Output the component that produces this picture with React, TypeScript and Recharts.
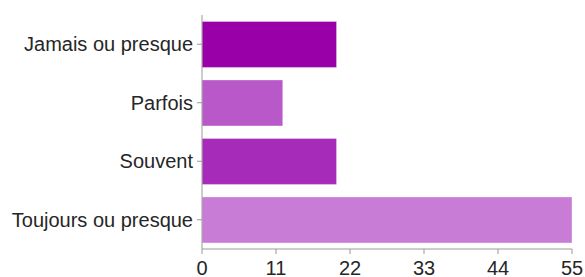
import React from "react";
import { Bar, BarChart, Cell, XAxis, YAxis } from "recharts";

const categories = ["Jamais ou presque", "Parfois", "Souvent", "Toujours ou presque"];
const counts = [20, 12, 20, 55];
const xTicks = [0, 11, 22, 33, 44, 55];

const colors = ["#9900a8", "#b958c8", "#a72bb9", "#c87cd6"];

const data = categories.map((name, i) => ({ name, value: counts[i] }));

const tickStyle = { fontSize: 20, fill: "#262626", fontFamily: "'Liberation Sans', Arial, sans-serif" };

export default function App() {
  return (
    <div style={{ position: "absolute", left: 0, top: 0, background: "#fff" }}>
      <BarChart
        width={585}
        height={277}
        data={data}
        layout="vertical"
        margin={{ top: 15, right: 13, bottom: 0, left: 0 }}
        barCategoryGap="11%"
      >
        <XAxis
          type="number"
          domain={[0, 55]}
          ticks={xTicks}
          height={28}
          tickSize={5}
          tickMargin={7}
          stroke="#9a9a9a"
          tick={tickStyle}
          interval={0}
        />
        <YAxis
          type="category"
          dataKey="name"
          width={202}
          tickSize={5}
          tickMargin={4}
          stroke="#9a9a9a"
          tick={tickStyle}
          interval={0}
        />
        <Bar dataKey="value" isAnimationActive={false} stroke="#ffffff" strokeOpacity={0.35} strokeWidth={1}>
          {data.map((d, i) => (
            <Cell key={d.name} fill={colors[i]} />
          ))}
        </Bar>
      </BarChart>
    </div>
  );
}
